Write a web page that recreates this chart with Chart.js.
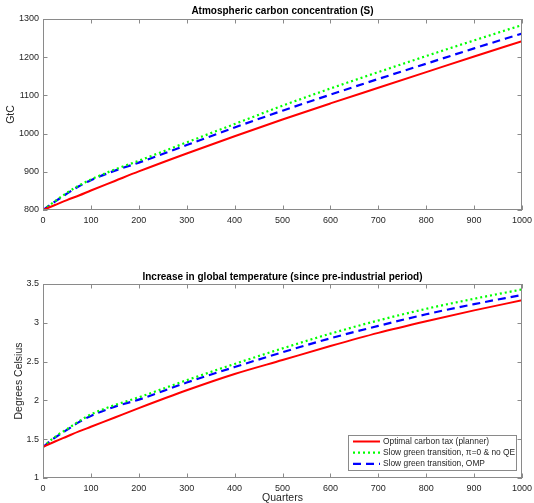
<!DOCTYPE html>
<html lang="en">
<head>
  <title>Carbon and temperature</title>
  <script src="https://cdn.jsdelivr.net/npm/chart.js@4.4.1/dist/chart.umd.min.js"></script>
  <style>
    body { margin: 0; background: #fff; }
    #wrap { position: relative; width: 534px; height: 503px; }
    #top { position: absolute; left: 0; top: 0; }
    #bot { position: absolute; left: 0; top: 240px; }
  </style>
</head>
<body>
<div id="wrap">
  <canvas id="top" width="534" height="235"></canvas>
  <canvas id="bot" width="534" height="263"></canvas>
</div>

<script>
// quarters on the x axis
const quarters = [0, 25, 50, 75, 100, 150, 200, 300, 400, 500, 600, 700, 800, 900, 1000];

// atmospheric carbon, GtC
const carbonPlanner = [800, 813, 826, 838, 851, 876, 901, 948, 993, 1037, 1079, 1120, 1161, 1202, 1242];
const carbonNoQE    = [800, 823, 845, 864, 880, 906, 929, 977, 1025, 1073, 1118, 1161, 1203, 1244, 1284];
const carbonOMP     = [800, 822, 843, 862, 878, 903, 924, 970, 1016, 1060, 1102, 1143, 1183, 1223, 1262];

// temperature increase, degrees Celsius
const tempPlanner = [1.40, 1.47, 1.535, 1.60, 1.66, 1.78, 1.90, 2.13, 2.34, 2.52, 2.70, 2.87, 3.02, 3.16, 3.29];
const tempNoQE    = [1.40, 1.53, 1.63, 1.73, 1.82, 1.94, 2.04, 2.26, 2.47, 2.67, 2.86, 3.03, 3.18, 3.31, 3.43];
const tempOMP     = [1.40, 1.52, 1.62, 1.72, 1.80, 1.92, 2.01, 2.23, 2.43, 2.62, 2.80, 2.96, 3.11, 3.24, 3.36];

const seriesNames = ['Optimal carbon tax (planner)', 'Slow green transition, \u03c0=0 & no QE', 'Slow green transition, OMP'];

const FONT = '"Liberation Sans", Arial, Helvetica, sans-serif';
const AXIS = '#262626';

function pts(ys) { return quarters.map((q, i) => ({x: q, y: ys[i]})); }

function makeSets(a, b, c) {
  return [
    { label: seriesNames[0], data: pts(a), borderColor: '#ff0000', borderWidth: 2, pointRadius: 0, cubicInterpolationMode: 'monotone' },
    { label: seriesNames[1], data: pts(b), borderColor: '#00ff00', borderWidth: 2.2, borderDash: [2, 3], pointRadius: 0, cubicInterpolationMode: 'monotone' },
    { label: seriesNames[2], data: pts(c), borderColor: '#0000ff', borderWidth: 2.2, borderDash: [8, 5], pointRadius: 0, cubicInterpolationMode: 'monotone' }
  ];
}

// matlab style box with inward ticks on all sides
const boxPlugin = {
  id: 'matlabBox',
  afterDraw(chart) {
    const ctx = chart.ctx, a = chart.chartArea;
    const xs = chart.scales.x, ys = chart.scales.y;
    const L = 4.5;
    ctx.save();
    ctx.strokeStyle = '#8a8a8a';
    ctx.lineWidth = 1;
    ctx.strokeRect(a.left + 0.5, a.top + 0.5, a.right - a.left - 1, a.bottom - a.top - 1);
    ctx.beginPath();
    xs.ticks.forEach(t => {
      const p = Math.round(xs.getPixelForValue(t.value)) + 0.5;
      ctx.moveTo(p, a.bottom); ctx.lineTo(p, a.bottom - L);
      ctx.moveTo(p, a.top); ctx.lineTo(p, a.top + L);
    });
    ys.ticks.forEach(t => {
      const p = Math.round(ys.getPixelForValue(t.value)) + 0.5;
      ctx.moveTo(a.left, p); ctx.lineTo(a.left + L, p);
      ctx.moveTo(a.right, p); ctx.lineTo(a.right - L, p);
    });
    ctx.stroke();
    ctx.restore();
  }
};

// legend box inside the lower plot, lower right
const boxLegend = {
  id: 'boxLegend',
  afterDraw(chart) {
    if (!chart.options.plugins.boxLegend.show) return;
    const ctx = chart.ctx, a = chart.chartArea;
    const w = 168, h = 35;
    const x0 = a.right - 6 - w, y0 = a.bottom - 8 - h;
    ctx.save();
    ctx.fillStyle = '#fff';
    ctx.fillRect(x0, y0, w, h);
    ctx.strokeStyle = '#8a8a8a';
    ctx.lineWidth = 1;
    ctx.strokeRect(x0 + 0.5, y0 + 0.5, w, h);
    ctx.font = '8.4px ' + FONT;
    ctx.textBaseline = 'middle';
    chart.data.datasets.forEach((ds, i) => {
      const y = y0 + 6.5 + i * 11.2;
      ctx.beginPath();
      ctx.strokeStyle = ds.borderColor;
      ctx.lineWidth = ds.borderWidth;
      ctx.setLineDash(ds.borderDash || []);
      ctx.moveTo(x0 + 5, y); ctx.lineTo(x0 + 32, y);
      ctx.stroke();
      ctx.setLineDash([]);
      ctx.fillStyle = AXIS;
      ctx.fillText(ds.label, x0 + 35, y);
    });
    ctx.restore();
  }
};

function makeChart(id, sets, opt) {
  return new Chart(document.getElementById(id), {
    type: 'line',
    data: { datasets: sets },
    options: {
      responsive: false,
      animation: false,
      layout: { padding: { left: 0, right: 12, top: 0, bottom: 0 } },
      scales: {
        x: {
          type: 'linear', min: 0, max: 1000,
          ticks: { stepSize: 100, color: AXIS, padding: 5, maxRotation: 0, font: { family: FONT, size: 9 }, callback: v => String(v) },
          grid: { display: false, drawTicks: false, tickLength: 0 },
          border: { display: false },
          title: { display: !!opt.xTitle, text: opt.xTitle || '', color: AXIS, padding: 0, font: { family: FONT, size: 10.5, lineHeight: 1 } },
          afterFit: s => { s.height = 25; s.paddingRight = 0; }
        },
        y: {
          min: opt.yMin, max: opt.yMax,
          ticks: { stepSize: opt.yStep, color: AXIS, padding: 4, font: { family: FONT, size: 9 }, callback: v => String(v) },
          grid: { display: false, drawTicks: false, tickLength: 0 },
          border: { display: false },
          title: { display: true, text: opt.yTitle, color: AXIS, padding: { top: opt.yTitlePad, bottom: 0 }, font: { family: FONT, size: 10.5 } },
          afterFit: s => { s.width = 43; }
        }
      },
      plugins: {
        legend: { display: false },
        tooltip: { enabled: false },
        title: {
          display: true, text: opt.title, fullSize: false, color: '#000',
          padding: { top: opt.titleTop, bottom: opt.titleBottom },
          font: { family: FONT, size: 10, weight: 'bold', lineHeight: 1.2 }
        },
        boxLegend: { show: !!opt.legend }
      }
    },
    plugins: [boxPlugin, boxLegend]
  });
}

makeChart('top', makeSets(carbonPlanner, carbonNoQE, carbonOMP), {
  title: 'Atmospheric carbon concentration (S)', titleTop: 5.7, titleBottom: 1.3,
  yMin: 800, yMax: 1300, yStep: 100, yTitle: 'GtC', yTitlePad: 4.7
});

makeChart('bot', makeSets(tempPlanner, tempNoQE, tempOMP), {
  title: 'Increase in global temperature (since pre-industrial period)', titleTop: 31.7, titleBottom: 0.3,
  yMin: 1, yMax: 3.5, yStep: 0.5, yTitle: 'Degrees Celsius', yTitlePad: 12.7,
  xTitle: 'Quarters', legend: true
});
</script>
</body>
</html>
